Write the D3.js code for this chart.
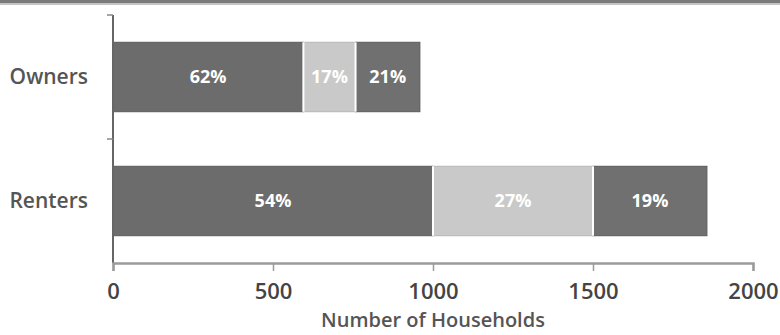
<!DOCTYPE html>
<html>
<head>
<meta charset="utf-8">
<script src="https://cdn.jsdelivr.net/npm/d3@7"></script>
<style>
  html, body { margin: 0; padding: 0; background: #fff; }
  svg { display: block; font-family: "Open Sans", "Noto Sans", sans-serif; }
</style>
</head>
<body>
<svg id="chart" width="780" height="335"></svg>
<script>
// Household tenure groups and the household counts in each of three segments
const categories = ["Owners", "Renters"];
const segmentKeys = ["first", "second", "third"];
const ownersValues = [595, 163, 201];
const rentersValues = [1000, 500, 356];
const xTicks = [0, 500, 1000, 1500, 2000];
const xTitle = "Number of Households";

const valuesByCategory = { Owners: ownersValues, Renters: rentersValues };
const rows = categories.map(c => {
  const r = { category: c };
  segmentKeys.forEach((k, i) => r[k] = valuesByCategory[c][i]);
  return r;
});

const svg = d3.select("#chart");
const W = 780, H = 335;
const margin = { left: 113, right: 27, top: 15, bottom: 72 };

// thin dark rule across the top edge
svg.append("rect").attr("x", 0).attr("y", 0).attr("width", W).attr("height", 3).attr("fill", "#7a7a7a");
svg.append("rect").attr("x", 0).attr("y", 3).attr("width", W).attr("height", 2).attr("fill", "#c4c4c4");

const x = d3.scaleLinear().domain([0, 2000]).range([margin.left, W - margin.right]);
const y = d3.scaleBand().domain(categories).range([margin.top, H - margin.bottom]).paddingInner(0.44).paddingOuter(0.22);

const colors = d3.scaleOrdinal().domain(segmentKeys).range(["#6c6c6c", "#c9c9c9", "#707070"]);

const stacked = d3.stack().keys(segmentKeys)(rows);

const g = svg.append("g");
stacked.forEach(layer => {
  const key = layer.key;
  const grp = g.append("g");
  grp.selectAll("rect")
    .data(layer)
    .join("rect")
    .attr("x", d => x(d[0]))
    .attr("y", d => y(d.data.category))
    .attr("width", d => x(d[1]) - x(d[0]))
    .attr("height", y.bandwidth())
    .attr("fill", colors(key))
    .attr("stroke", key === "second" ? "#b5b5b5" : "#5a5a5a")
    .attr("stroke-width", 1);
  grp.selectAll("text")
    .data(layer)
    .join("text")
    .attr("x", d => (x(d[0]) + x(d[1])) / 2)
    .attr("y", d => y(d.data.category) + y.bandwidth() / 2)
    .attr("dy", "0.36em")
    .attr("text-anchor", "middle")
    .attr("fill", "#ffffff")
    .attr("font-size", 18)
    .attr("font-weight", 700)
    .text(d => {
      const total = segmentKeys.reduce((s, k) => s + d.data[k], 0);
      return Math.round((d[1] - d[0]) / total * 100) + "%";
    });
});

// white separators between segments
rows.forEach(r => {
  let acc = 0;
  segmentKeys.slice(0, -1).forEach(k => {
    acc += r[k];
    g.append("line")
      .attr("x1", x(acc)).attr("x2", x(acc))
      .attr("y1", y(r.category)).attr("y2", y(r.category) + y.bandwidth())
      .attr("stroke", "#ffffff").attr("stroke-width", 2);
  });
});

// y axis: line with ticks at the band boundaries
const yAxisG = svg.append("g");
yAxisG.append("line")
  .attr("x1", margin.left).attr("x2", margin.left)
  .attr("y1", margin.top).attr("y2", H - margin.bottom)
  .attr("stroke", "#666").attr("stroke-width", 2);
const bounds = [margin.top, (y("Owners") + y.bandwidth() + y("Renters")) / 2];
yAxisG.selectAll("line.tick").data(bounds).join("line")
  .attr("class", "tick")
  .attr("x1", margin.left - 6).attr("x2", margin.left)
  .attr("y1", d => d).attr("y2", d => d)
  .attr("stroke", "#888").attr("stroke-width", 1.5);
yAxisG.selectAll("text").data(categories).join("text")
  .attr("x", 88)
  .attr("y", d => y(d) + y.bandwidth() / 2)
  .attr("dy", "0.32em")
  .attr("text-anchor", "end")
  .attr("fill", "#555")
  .attr("font-size", 21)
  .attr("font-weight", 600)
  .text(d => d);

// x axis
const xAxis = d3.axisBottom(x).tickValues(xTicks).tickSize(8).tickPadding(12).tickFormat(d3.format("d"));
const xAxisG = svg.append("g")
  .attr("transform", `translate(0,${H - margin.bottom})`)
  .call(xAxis);
xAxisG.select(".domain").attr("stroke", "#9a9a9a").attr("stroke-width", 2.5);
xAxisG.selectAll(".tick line").attr("stroke", "#9a9a9a").attr("stroke-width", 1.5);
xAxisG.selectAll(".tick text")
  .attr("fill", "#444")
  .attr("font-size", 22)
  .attr("font-weight", 600)
  .attr("font-family", "\"Open Sans\", sans-serif");

svg.append("text")
  .attr("x", (x(0) + x(2000)) / 2)
  .attr("y", 327)
  .attr("text-anchor", "middle")
  .attr("fill", "#555")
  .attr("font-size", 20)
  .attr("font-weight", 600)
  .text(xTitle);
</script>
</body>
</html>
